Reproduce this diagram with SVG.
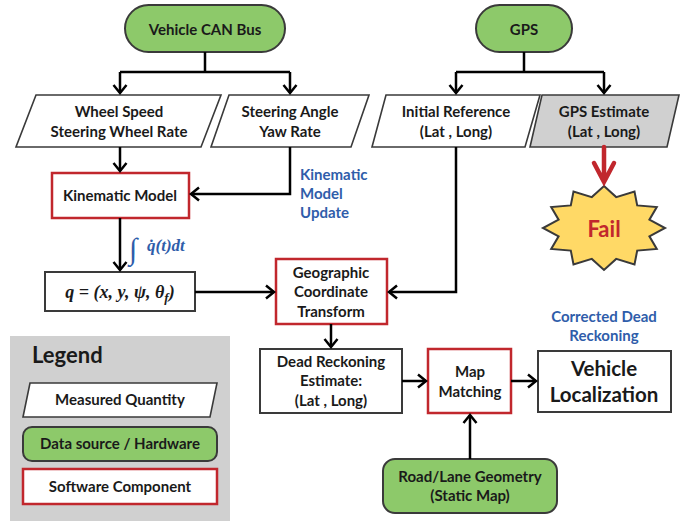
<svg xmlns="http://www.w3.org/2000/svg" width="694" height="521" viewBox="0 0 694 521">
<defs>
<marker id="arr" markerUnits="userSpaceOnUse" markerWidth="20" markerHeight="20" viewBox="-10 -10 20 20" refX="0" refY="0" orient="auto">
<path d="M-8,-6.5 L0,0 L-8,6.5" fill="none" stroke="#000" stroke-width="2.5" stroke-linejoin="miter"/>
</marker>
<style>
text{font-family:Lato,"Open Sans","Liberation Sans",sans-serif;font-weight:bold;font-size:15px;fill:#1a1a1a;text-anchor:middle}
.pill{fill:#8DC96A;stroke:#3a3a3a;stroke-width:2}
.para{fill:#fff;stroke:#3a3a3a;stroke-width:1.6}
.gray{fill:#D0D0D0}
.sw{fill:#fff;stroke:#C1272D;stroke-width:2.5}
.box{fill:#fff;stroke:#3a3a3a;stroke-width:2}
.blue{fill:#2F5DAA}
.math{font-family:"Liberation Serif","DejaVu Serif",serif;font-style:italic;font-weight:bold}
.conn path{fill:none;stroke:#000;stroke-width:2.5}
</style>
</defs>
<rect width="694" height="521" fill="#fff"/>

<g id="legend">
<rect x="10" y="336" width="220" height="185" fill="#D0D0D0"/>
<text x="32" y="363" style="font-size:22px;text-anchor:start">Legend</text>
<polygon class="para" points="30,383 217,383 210,417 23,417"/>
<text x="120" y="405">Measured Quantity</text>
<rect class="pill" x="23" y="427" width="194" height="34" rx="9"/>
<text x="120" y="449">Data source / Hardware</text>
<rect class="sw" x="23" y="469" width="194" height="35"/>
<text x="120" y="492">Software Component</text>
</g>

<g id="can">
<rect class="pill" x="125" y="5" width="160" height="47" rx="23.5"/>
<text x="205" y="35">Vehicle CAN Bus</text>
</g>
<g id="gps">
<rect class="pill" x="476" y="5" width="96" height="47" rx="23.5"/>
<text x="524" y="35">GPS</text>
</g>

<g id="wheel">
<polygon class="para" points="36,95 221,95 201,147 16,147"/>
<text x="119" y="117">Wheel Speed</text>
<text x="119" y="137">Steering Wheel Rate</text>
</g>
<g id="steer">
<polygon class="para" points="229,95 369,95 351,147 211,147"/>
<text x="290" y="117">Steering Angle</text>
<text x="290" y="137">Yaw Rate</text>
</g>
<g id="initref">
<polygon class="para" points="386,95 540,95 525,147 372,147"/>
<text x="456" y="117">Initial Reference</text>
<text x="456" y="137">(Lat , Long)</text>
</g>
<g id="gpsest">
<polygon class="para" style="fill:#D0D0D0" points="542,95 679,95 667,147 530,147"/>
<text x="604" y="117">GPS Estimate</text>
<text x="604" y="137">(Lat , Long)</text>
</g>

<g id="kin">
<rect class="sw" x="52" y="173" width="137" height="45"/>
<text x="120" y="201">Kinematic Model</text>
</g>
<text class="blue" x="300" y="180" style="text-anchor:start">Kinematic</text>
<text class="blue" x="300" y="199" style="text-anchor:start">Model</text>
<text class="blue" x="300" y="218" style="text-anchor:start">Update</text>

<text class="math blue" x="129" y="259" style="font-size:30px;font-weight:normal;text-anchor:start">∫</text>
<text class="math blue" x="147" y="251" style="font-size:17px;text-anchor:start">q&#x307;(t)dt</text>

<g id="q">
<rect class="box" x="45" y="272" width="150" height="39"/>
<text class="math" x="120" y="298" style="font-size:18px">q = (x, y, ψ, θ<tspan dy="4" style="font-size:13px">f</tspan><tspan dy="-4">)</tspan></text>
</g>

<g id="geo">
<rect class="sw" x="276" y="259" width="111" height="65"/>
<text x="331" y="278">Geographic</text>
<text x="331" y="297">Coordinate</text>
<text x="331" y="317">Transform</text>
</g>

<g id="fail">
<polygon points="604,186 616.2,197.1 634.5,191.6 637.2,205.4 656.8,207 649.4,219.7 665,228 649.4,236.3 656.8,249 637.2,250.6 634.5,264.4 616.2,258.9 604,270 591.8,258.9 573.5,264.4 570.8,250.6 551.2,249 558.6,236.3 543,228 558.6,219.7 551.2,207 570.8,205.4 573.5,191.6 591.8,197.1" fill="#FFD966" stroke="#3a3a3a" stroke-width="2"/>
<text x="604" y="237" style="font-size:22px;fill:#C1272D">Fail</text>
</g>

<text class="blue" x="604" y="322">Corrected Dead</text>
<text class="blue" x="604" y="341">Reckoning</text>

<g id="dr">
<rect class="box" x="260" y="349" width="142" height="64"/>
<text x="331" y="367">Dead Reckoning</text>
<text x="331" y="386">Estimate:</text>
<text x="331" y="406">(Lat , Long)</text>
</g>
<g id="mm">
<rect class="sw" x="428" y="349" width="83" height="64"/>
<text x="470" y="377">Map</text>
<text x="470" y="397">Matching</text>
</g>
<g id="vl">
<rect class="box" x="538" y="351" width="133" height="61"/>
<text x="604" y="376" style="font-size:20.5px">Vehicle</text>
<text x="604" y="402" style="font-size:20.5px">Localization</text>
</g>
<g id="road">
<rect class="pill" x="383" y="459" width="174" height="54" rx="12"/>
<text x="470" y="482">Road/Lane Geometry</text>
<text x="470" y="501">(Static Map)</text>
</g>

<g id="connectors" class="conn">
<path d="M205 52 V72 M120 72 H290"/>
<path d="M120 72 V93" marker-end="url(#arr)"/>
<path d="M290 72 V93" marker-end="url(#arr)"/>
<path d="M524 52 V72 M456 72 H604"/>
<path d="M456 72 V93" marker-end="url(#arr)"/>
<path d="M604 72 V93" marker-end="url(#arr)"/>
<path d="M120 147 V171" marker-end="url(#arr)"/>
<path d="M290 147 V194 H191" marker-end="url(#arr)"/>
<path d="M120 218 V270" marker-end="url(#arr)"/>
<path d="M195 292 H274" marker-end="url(#arr)"/>
<path d="M456 147 V292 H389" marker-end="url(#arr)"/>
<path d="M331 324 V347" marker-end="url(#arr)"/>
<path d="M402 381 H426" marker-end="url(#arr)"/>
<path d="M511 381 H536" marker-end="url(#arr)"/>
<path d="M470 459 V415" marker-end="url(#arr)"/>
<path d="M604 147 V182 M594 163 L604 182 L614 163" style="stroke:#C1272D;stroke-width:4.5;stroke-linecap:round;stroke-linejoin:miter"/>
</g>
</svg>
